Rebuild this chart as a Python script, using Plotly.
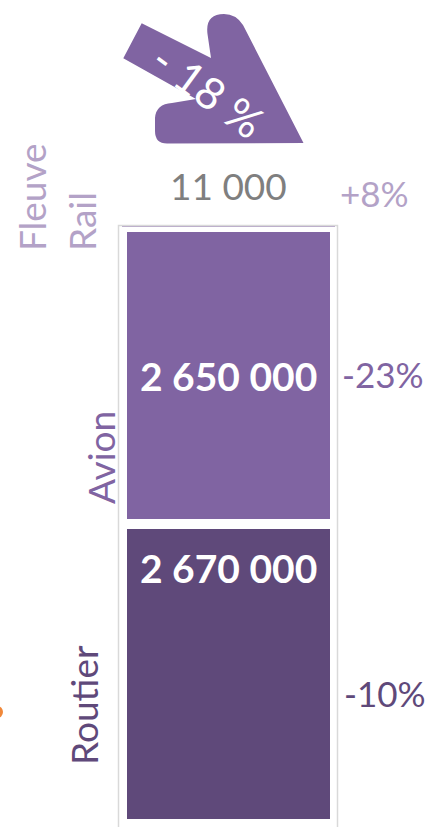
import plotly.graph_objects as go

# ---------------- data ----------------
modes = ["Routier", "Avion", "Rail / Fleuve"]
volumes = [2670000, 2650000, 11000]
changes = ["-10%", "-23%", "+8%"]
side_labels = ["Routier", "Avion", "Rail", "Fleuve"]
total_change = "- 18 %"

# ---------------- styles ----------------
W, H = 429, 827
FONT = "Lato"
bar_colors = ["#5f497a", "#8064a2", "#b3a2c7"]
bar_line_w = [10, 10, 0]
pct_colors = ["#5f497a", "#8064a2", "#b3a2c7"]
side_colors = ["#5f497a", "#8064a2", "#b3a2c7", "#b3a2c7"]

def px(x):
    return x / W

def py(y):
    return 1 - y / H

def fmt(v):
    return f"{v:,}".replace(",", " ")

# y scale: 113.1 px per million, value 0 at pixel 830
ppm = 113.1e-6
y_range = [-3 / ppm, 830 / ppm]
x_range = [-0.5 - 122 / 213, 0.5 + (W - 335) / 213]

fig = go.Figure()
for i, (m, v) in enumerate(zip(modes, volumes)):
    fig.add_trace(go.Bar(
        x=[0], y=[v], name=m, width=1,
        marker=dict(color=bar_colors[i], line=dict(color="white", width=bar_line_w[i])),
        hoverinfo="skip", showlegend=False,
    ))

annotations = []
bases = [sum(volumes[:i]) for i in range(len(volumes))]
C = dict(xanchor="center", yanchor="middle", showarrow=False)

# value labels
annotations.append(dict(x=0, y=bases[0] + volumes[0], xref="x", yref="y", yshift=-44,
                        text=f"<b>{fmt(volumes[0])}</b>",
                        font=dict(family=FONT, size=39, color="white"), **C))
annotations.append(dict(x=0, y=bases[1] + volumes[1] / 2, xref="x", yref="y", yshift=-1,
                        text=f"<b>{fmt(volumes[1])}</b>",
                        font=dict(family=FONT, size=39, color="white"), **C))
annotations.append(dict(x=0, y=bases[2] + volumes[2], xref="x", yref="y", yshift=40,
                        text=fmt(volumes[2]),
                        font=dict(family=FONT, size=37, color="#7f7f7f"), **C))

# change labels
pct_pos = [(385, -19, bases[0] + volumes[0] / 2),
           (383, 1, bases[1] + volumes[1] / 2),
           (374, 32, bases[2] + volumes[2])]
for i, (xp, ys, yv) in enumerate(pct_pos):
    annotations.append(dict(x=px(xp), y=yv, xref="paper", yref="y", yshift=ys,
                            text=changes[i],
                            font=dict(family=FONT, size=35, color=pct_colors[i]), **C))

# side labels (rotated)
side_pos = [(83, 705), (101, 458), (81, 222), (32, 197)]
for i, (xp, yp) in enumerate(side_pos):
    annotations.append(dict(x=px(xp), y=py(yp), xref="paper", yref="paper",
                            text=side_labels[i], textangle=-90,
                            font=dict(family=FONT, size=37, color=side_colors[i]), **C))

# arrow text
annotations.append(dict(x=px(208), y=py(90), xref="paper", yref="paper",
                        text=total_change.replace(" ", "\u00a0"), textangle=36,
                        font=dict(family=FONT, size=44, color="white"), **C))

# arrow shape path (pixel points -> paper)
def P(x, y):
    return f"{px(x):.5f},{py(y):.5f}"

path = (f"M {P(123.3, 58.3)} L {P(141.7, 23.3)} L {P(211, 58)} L {P(207.5, 34)} "
        f"Q {P(205, 14)} {P(224, 14)} Q {P(236, 14)} {P(243, 25)} "
        f"L {P(303.5, 143)} L {P(167, 143.5)} Q {P(155, 143.5)} {P(155, 131)} "
        f"L {P(155, 118)} Q {P(156, 104)} {P(172, 103)} L {P(196, 99)} Z")

shapes = [
    dict(type="path", path=path, xref="paper", yref="paper",
         fillcolor="#8064a2", line=dict(width=0), layer="below"),
    dict(type="rect", xref="paper", yref="paper",
         x0=px(118.5), x1=px(337.5), y0=py(840), y1=py(225.5),
         line=dict(color="#d9d9d9", width=1.5), fillcolor="rgba(0,0,0,0)", layer="above"),
    dict(type="circle", xref="paper", yref="paper",
         x0=px(-8), x1=px(3), y0=py(718), y1=py(706),
         fillcolor="#f0883a", line=dict(width=0), layer="above"),
]

fig.update_layout(
    width=W, height=H,
    margin=dict(l=0, r=0, t=0, b=0),
    paper_bgcolor="white", plot_bgcolor="white",
    barmode="stack", bargap=0,
    xaxis=dict(range=x_range, visible=False, fixedrange=True),
    yaxis=dict(range=y_range, visible=False, fixedrange=True),
    annotations=annotations,
    shapes=shapes,
    showlegend=False,
)

fig.write_html(
    "out.html",
    config={"displayModeBar": False, "staticPlot": True},
    post_script="document.body.style.margin='0';document.body.style.overflow='hidden';",
)
